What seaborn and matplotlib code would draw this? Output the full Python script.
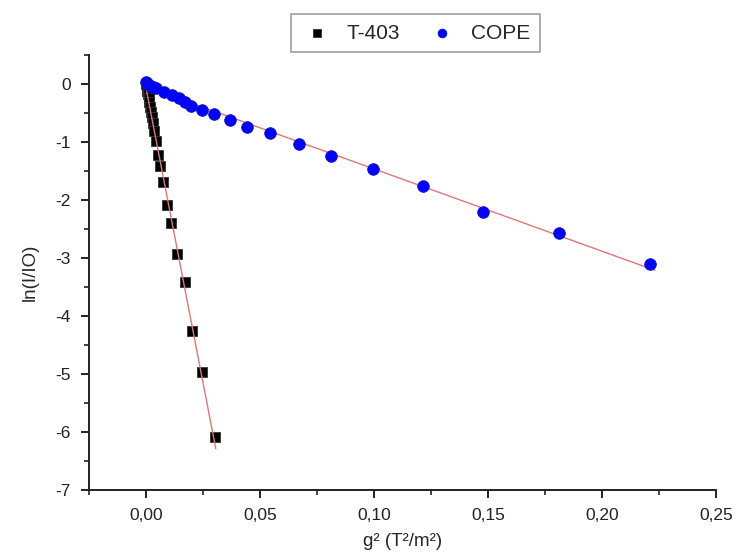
import numpy as np
import pandas as pd
import matplotlib.pyplot as plt
import seaborn as sns
from matplotlib.ticker import MultipleLocator, FuncFormatter

# g^2 (T^2/m^2) and ln(I/I0)
t403_g2 = [0.0, 0.0003, 0.0006, 0.0009, 0.0012, 0.0015, 0.0019, 0.0023, 0.0027, 0.0031,
           0.0035, 0.0043, 0.0052, 0.0061, 0.0073, 0.0091, 0.0108, 0.0134, 0.0169,
           0.0203, 0.0246, 0.0303]
t403_ln = [0.0, -0.06, -0.12, -0.18, -0.24, -0.31, -0.39, -0.48, -0.57, -0.67,
           -0.81, -0.98, -1.22, -1.41, -1.69, -2.09, -2.40, -2.93, -3.41,
           -4.26, -4.97, -6.09]

cope_g2 = [0.0, 0.0005, 0.001, 0.002, 0.003, 0.0043, 0.0078, 0.0112, 0.0143, 0.0173,
           0.0199, 0.0246, 0.0298, 0.0367, 0.0445, 0.0545, 0.067, 0.081, 0.0994,
           0.1215, 0.148, 0.181, 0.221]
cope_ln = [0.03, 0.01, -0.01, -0.03, -0.05, -0.07, -0.14, -0.19, -0.24, -0.31,
           -0.38, -0.45, -0.52, -0.62, -0.74, -0.84, -1.03, -1.24, -1.47,
           -1.76, -2.21, -2.57, -3.10]

x_ticks = [0.0, 0.05, 0.10, 0.15, 0.20, 0.25]
y_ticks = [0, -1, -2, -3, -4, -5, -6, -7]

sns.set_style("ticks")
plt.rcParams['font.family'] = ['Liberation Sans', 'DejaVu Sans']

fig = plt.figure(figsize=(7.38, 5.54), dpi=100)
ax = fig.add_axes([0.1206, 0.1155, 0.8495, 0.7852])


def fit_line(x, y):
    k, b = np.polyfit(x, y, 1)
    xs = np.array([0.0, max(x) * 1.01])
    return pd.DataFrame({"x": xs, "y": k * xs + b})


fit_color = "#dc7878"
sns.lineplot(data=fit_line(t403_g2, t403_ln), x="x", y="y", ax=ax,
             color=fit_color, lw=1.0, zorder=3, legend=False)
sns.lineplot(data=fit_line(cope_g2, cope_ln), x="x", y="y", ax=ax,
             color=fit_color, lw=1.0, zorder=3, legend=False)

sns.scatterplot(x=t403_g2, y=t403_ln, ax=ax, marker="s", s=60, color="black",
                edgecolor="#333333", linewidth=0.6, label="T-403", zorder=2)
sns.scatterplot(x=cope_g2, y=cope_ln, ax=ax, marker="o", s=70, color="#0000ff",
                edgecolor="#1010c0", linewidth=0.6, label="COPE", zorder=4)

ax.set_xlim(-0.025, 0.25)
ax.set_ylim(-7, 0.5)
ax.set_xticks(x_ticks)
ax.set_yticks(y_ticks)
ax.xaxis.set_minor_locator(MultipleLocator(0.025))
ax.yaxis.set_minor_locator(MultipleLocator(0.5))
ax.xaxis.set_major_formatter(FuncFormatter(lambda v, p: f"{v:.2f}".replace(".", ",")))
ax.yaxis.set_major_formatter(FuncFormatter(lambda v, p: f"{int(round(v))}"))

sns.despine(ax=ax)
for s in ["left", "bottom"]:
    ax.spines[s].set_linewidth(1.4)
    ax.spines[s].set_color("#222222")
ax.tick_params(which="major", direction="out", length=6, width=1.4,
               labelsize=12.5, colors="#222222", pad=7)
ax.tick_params(which="minor", direction="out", length=3.5, width=1.2, colors="#222222")

ax.set_xlabel("g² (T²/m²)", fontsize=13.5, labelpad=7)
ax.set_ylabel("ln(I/IO)", fontsize=13.5, labelpad=12)

leg = ax.legend(loc="center", bbox_to_anchor=(0.563, 0.94), bbox_transform=fig.transFigure,
                ncol=2, frameon=True, fancybox=False, fontsize=15, markerscale=0.75,
                handletextpad=0.6, columnspacing=1.2, borderpad=0.45, handlelength=1.6)
leg.get_frame().set_edgecolor("#888888")
leg.get_frame().set_linewidth(1.2)

fig.savefig("out.png", dpi=100)
